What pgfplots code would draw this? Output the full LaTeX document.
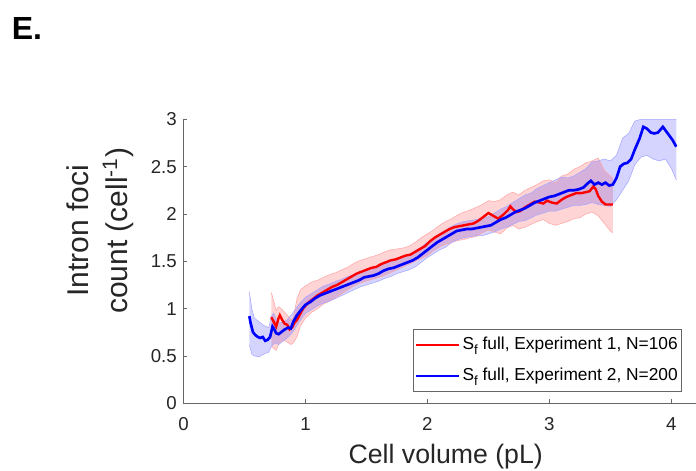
\documentclass[border=0pt]{standalone}
\usepackage{pgfplots}
\pgfplotsset{compat=1.18}
\usepgfplotslibrary{fillbetween}
\usepackage{fontspec}
\setmainfont{Liberation Sans}
\newcommand{\subf}{\raisebox{-4pt}{\fontsize{10}{10}\selectfont f}}

\pgfplotstableread{
x y
0.54 0.92
0.55 0.85
0.57 0.75
0.59 0.72
0.61 0.70
0.63 0.69
0.65 0.70
0.67 0.66
0.69 0.67
0.71 0.70
0.73 0.81
0.745 0.78
0.76 0.74
0.78 0.73
0.80 0.75
0.83 0.78
0.86 0.80
0.88 0.79
0.90 0.86
0.93 0.93
0.96 0.98
1.00 1.04
1.04 1.07
1.08 1.11
1.12 1.14
1.16 1.16
1.20 1.18
1.24 1.20
1.28 1.22
1.32 1.24
1.36 1.26
1.40 1.28
1.44 1.30
1.48 1.33
1.52 1.34
1.56 1.35
1.60 1.37
1.64 1.40
1.68 1.42
1.72 1.43
1.76 1.45
1.80 1.47
1.84 1.49
1.88 1.51
1.92 1.54
1.96 1.58
2.00 1.62
2.04 1.66
2.08 1.70
2.12 1.73
2.16 1.76
2.20 1.79
2.24 1.82
2.28 1.83
2.32 1.84
2.36 1.84
2.40 1.85
2.44 1.86
2.48 1.87
2.52 1.88
2.56 1.91
2.60 1.94
2.64 1.96
2.68 1.99
2.72 2.02
2.76 2.04
2.80 2.06
2.84 2.09
2.88 2.12
2.92 2.14
2.96 2.16
3.00 2.18
3.04 2.19
3.08 2.21
3.12 2.23
3.16 2.25
3.20 2.25
3.24 2.26
3.28 2.28
3.32 2.33
3.34 2.35
3.37 2.31
3.40 2.33
3.43 2.31
3.46 2.33
3.49 2.30
3.52 2.31
3.55 2.38
3.58 2.50
3.61 2.53
3.64 2.54
3.67 2.58
3.70 2.68
3.74 2.80
3.77 2.92
3.80 2.90
3.83 2.86
3.86 2.85
3.89 2.86
3.93 2.92
3.97 2.85
4.01 2.78
4.04 2.71
}\bluemean

\pgfplotstableread{
x y
0.54 1.18
0.56 1.00
0.58 0.90
0.62 0.86
0.66 0.82
0.70 0.80
0.72 0.92
0.74 0.95
0.77 0.86
0.80 0.85
0.85 0.88
0.90 0.96
0.95 1.05
1.00 1.12
1.05 1.16
1.10 1.20
1.15 1.24
1.20 1.26
1.25 1.29
1.30 1.31
1.35 1.34
1.40 1.36
1.45 1.39
1.50 1.42
1.55 1.43
1.60 1.45
1.65 1.48
1.70 1.50
1.75 1.53
1.80 1.55
1.85 1.57
1.90 1.61
1.95 1.65
2.00 1.70
2.05 1.74
2.10 1.79
2.15 1.83
2.20 1.87
2.25 1.90
2.30 1.92
2.35 1.93
2.40 1.94
2.45 1.96
2.50 1.97
2.55 2.01
2.60 2.05
2.65 2.08
2.70 2.12
2.75 2.16
2.80 2.20
2.85 2.22
2.90 2.27
2.95 2.30
3.00 2.33
3.05 2.36
3.10 2.39
3.15 2.38
3.20 2.40
3.25 2.44
3.30 2.48
3.35 2.55
3.40 2.56
3.45 2.58
3.50 2.56
3.55 2.62
3.60 2.80
3.65 2.85
3.70 2.98
3.75 3.00
3.80 3.00
3.90 3.00
4.04 3.00
}\blueup

\pgfplotstableread{
x y
0.54 0.62
0.56 0.52
0.58 0.50
0.62 0.49
0.66 0.52
0.70 0.54
0.72 0.60
0.75 0.64
0.78 0.62
0.82 0.66
0.86 0.70
0.90 0.76
0.95 0.86
1.00 0.95
1.05 0.99
1.10 1.03
1.15 1.06
1.20 1.08
1.25 1.11
1.30 1.14
1.35 1.17
1.40 1.20
1.45 1.23
1.50 1.25
1.55 1.27
1.60 1.29
1.65 1.32
1.70 1.34
1.75 1.37
1.80 1.39
1.85 1.41
1.90 1.44
1.95 1.49
2.00 1.54
2.05 1.58
2.10 1.62
2.15 1.65
2.20 1.70
2.25 1.73
2.30 1.75
2.35 1.76
2.40 1.77
2.45 1.77
2.50 1.79
2.55 1.81
2.60 1.84
2.65 1.86
2.70 1.89
2.75 1.92
2.80 1.93
2.85 1.96
2.90 1.99
2.95 2.01
3.00 2.03
3.05 2.03
3.10 2.05
3.15 2.07
3.20 2.09
3.25 2.09
3.30 2.10
3.35 2.12
3.40 2.10
3.45 2.09
3.50 2.08
3.55 2.15
3.60 2.25
3.65 2.35
3.70 2.52
3.75 2.60
3.80 2.62
3.85 2.58
3.90 2.56
3.95 2.58
4.00 2.48
4.04 2.36
}\bluelow

\pgfplotstableread{
x y
0.72 0.91
0.74 0.86
0.76 0.81
0.78 0.90
0.79 0.93
0.81 0.88
0.83 0.84
0.85 0.83
0.87 0.78
0.89 0.80
0.91 0.85
0.93 0.88
0.96 0.95
0.98 1.00
1.02 1.06
1.06 1.10
1.10 1.14
1.14 1.17
1.18 1.20
1.22 1.23
1.26 1.25
1.30 1.28
1.34 1.31
1.38 1.34
1.42 1.37
1.46 1.39
1.50 1.41
1.54 1.43
1.58 1.44
1.62 1.47
1.66 1.49
1.70 1.51
1.74 1.52
1.78 1.54
1.82 1.56
1.86 1.57
1.90 1.60
1.94 1.63
1.98 1.66
2.02 1.71
2.06 1.75
2.10 1.78
2.14 1.81
2.18 1.84
2.22 1.86
2.26 1.87
2.30 1.88
2.34 1.89
2.38 1.90
2.42 1.93
2.46 1.97
2.50 2.01
2.54 1.98
2.58 1.95
2.62 1.99
2.66 2.04
2.68 2.08
2.70 2.05
2.73 2.02
2.76 2.03
2.80 2.07
2.84 2.10
2.88 2.13
2.92 2.12
2.95 2.11
2.98 2.14
3.02 2.12
3.06 2.11
3.10 2.15
3.14 2.18
3.18 2.20
3.22 2.22
3.26 2.22
3.30 2.23
3.33 2.24
3.36 2.29
3.38 2.26
3.40 2.19
3.43 2.13
3.46 2.10
3.50 2.10
3.52 2.10
}\redmean

\pgfplotstableread{
x y
0.72 1.17
0.74 1.08
0.76 0.98
0.78 1.02
0.80 1.00
0.83 0.96
0.86 0.92
0.88 0.88
0.90 0.90
0.93 1.10
0.96 1.20
1.00 1.24
1.05 1.28
1.10 1.30
1.15 1.33
1.20 1.36
1.25 1.38
1.30 1.41
1.35 1.44
1.40 1.48
1.45 1.51
1.50 1.53
1.55 1.55
1.60 1.57
1.65 1.60
1.70 1.62
1.75 1.63
1.80 1.64
1.85 1.66
1.90 1.70
1.95 1.75
2.00 1.79
2.05 1.83
2.10 1.88
2.15 1.92
2.20 1.95
2.25 1.99
2.30 2.02
2.35 2.04
2.40 2.07
2.45 2.10
2.50 2.14
2.55 2.13
2.60 2.15
2.65 2.20
2.70 2.23
2.75 2.20
2.80 2.25
2.85 2.28
2.90 2.31
2.95 2.35
3.00 2.36
3.05 2.33
3.10 2.40
3.15 2.42
3.20 2.47
3.25 2.50
3.30 2.54
3.35 2.56
3.40 2.59
3.45 2.46
3.50 2.40
3.52 2.38
}\redup

\pgfplotstableread{
x y
0.72 0.60
0.74 0.58
0.76 0.56
0.78 0.62
0.80 0.66
0.83 0.66
0.86 0.64
0.88 0.62
0.90 0.64
0.93 0.70
0.96 0.82
1.00 0.90
1.05 0.96
1.10 1.00
1.15 1.05
1.20 1.08
1.25 1.12
1.30 1.16
1.35 1.20
1.40 1.24
1.45 1.27
1.50 1.29
1.55 1.31
1.60 1.33
1.65 1.35
1.70 1.38
1.75 1.41
1.80 1.44
1.85 1.47
1.90 1.50
1.95 1.53
2.00 1.56
2.05 1.61
2.10 1.65
2.15 1.68
2.20 1.70
2.25 1.72
2.30 1.73
2.35 1.75
2.40 1.76
2.45 1.80
2.50 1.83
2.55 1.81
2.60 1.79
2.65 1.85
2.70 1.88
2.75 1.84
2.80 1.86
2.85 1.89
2.90 1.92
2.95 1.94
3.00 1.90
3.05 1.88
3.10 1.90
3.15 1.92
3.20 1.95
3.25 1.96
3.30 2.00
3.35 2.02
3.40 1.98
3.45 1.90
3.50 1.82
3.52 1.80
}\redlow

\begin{document}
\begin{tikzpicture}
\begin{axis}[
  at={(0,0)}, anchor=south west,
  scale only axis, width=393.4pt, height=213pt,
  xmin=0, xmax=4.3, ymin=0, ymax=3,
  axis x line=bottom, axis y line=left,
  axis line style={-, black!60, line width=0.6pt},
  xtick={0,1,2,3,4}, ytick={0,0.5,1,1.5,2,2.5,3},
  tick align=inside, major tick length=3pt,
  tick style={black!60, line width=0.6pt},
  ticklabel style={font=\fontsize{14}{16}\selectfont, text=black!85},
  /pgf/number format/assume math mode=true,
  xticklabel style={yshift=-7pt},
  yticklabel style={xshift=-1.5pt},
  xlabel={Cell volume (pL)},
  xlabel style={font=\fontsize{20}{24}\selectfont, text=black!85, at={(axis description cs:0.5,-0.2113)}, anchor=base},
  ylabel={Intron foci\\count (cell\textsuperscript{-1})},
  ylabel style={font=\fontsize{22.5}{29}\selectfont, text=black!85, align=center, at={(axis description cs:-0.1591,0.607)}, anchor=center},
  legend style={at={(axis description cs:0.4375,0.2615)}, anchor=north west, draw=black!60, line width=0.6pt, font=\fontsize{13}{15}\selectfont, inner xsep=1pt, inner ysep=3.5pt, row sep=7.5pt, fill=white, cells={anchor=west}, nodes={inner xsep=2pt, text depth=2.5pt}},
  legend image code/.code={\path (0pt,0pt) -- (3.5pt,0pt); \draw[#1] (3.5pt,0pt) -- (32.5pt,0pt);},
  legend image post style={line width=1.4pt},
]
\addplot[name path=ru, draw=red!35, line width=0.4pt, forget plot] table {\redup};
\addplot[name path=rl, draw=red!35, line width=0.4pt, forget plot] table {\redlow};
\addplot[red, fill opacity=0.17, draw=none, forget plot] fill between[of=ru and rl];
\addplot[name path=bu, draw=blue!35, line width=0.4pt, forget plot] table {\blueup};
\addplot[name path=bl, draw=blue!35, line width=0.4pt, forget plot] table {\bluelow};
\addplot[blue, fill opacity=0.17, draw=none, forget plot] fill between[of=bu and bl];
\addplot[red, line width=1.8pt] table {\redmean};
\addlegendentry{S\subf\ full, Experiment 1, N=106}
\addplot[blue, line width=2pt] table {\bluemean};
\addlegendentry{S\subf\ full, Experiment 2, N=200}
\end{axis}
\node[anchor=base west, inner sep=0, font=\fontsize{24}{28}\selectfont\bfseries] at (-128.9pt,273pt) {E.};
\pgfresetboundingbox
\useasboundingbox (-137.6pt,-50.8pt) rectangle (384.4pt,302.45pt);
\end{tikzpicture}
\end{document}
